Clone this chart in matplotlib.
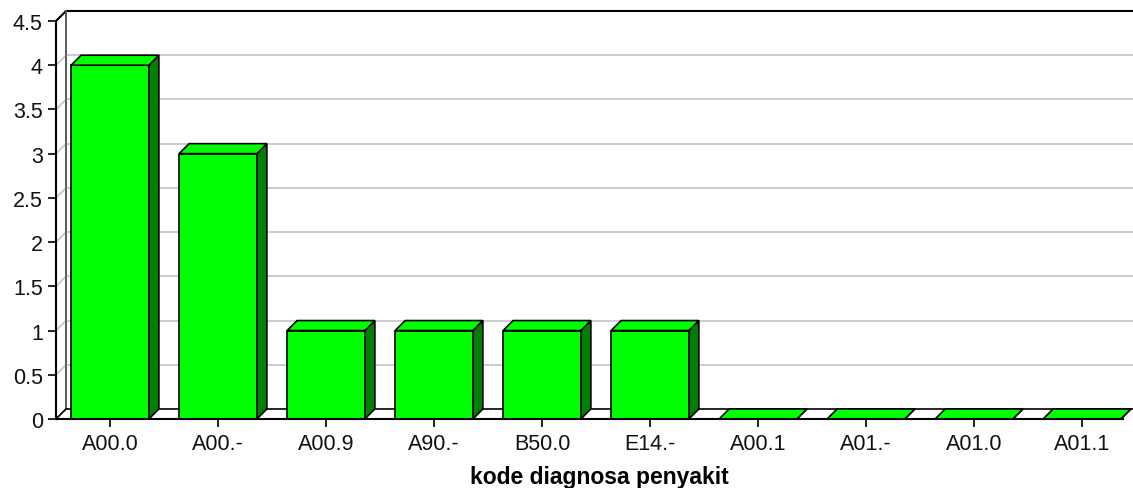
import matplotlib
matplotlib.use("Agg")
import matplotlib.pyplot as plt
from matplotlib.patches import Polygon, Rectangle

plt.rcParams['font.family'] = ['Liberation Sans', 'DejaVu Sans']

# jumlah kasus per kode diagnosa
codes = ['A00.0', 'A00.-', 'A00.9', 'A90.-', 'B50.0', 'E14.-', 'A00.1', 'A01.-', 'A01.0', 'A01.1']
counts = [4, 3, 1, 1, 1, 1, 0, 0, 0, 0]
yticks = [0, 0.5, 1, 1.5, 2, 2.5, 3, 3.5, 4, 4.5]
ytick_labels = ['0', '0.5', '1', '1.5', '2', '2.5', '3', '3.5', '4', '4.5']

W, H = 1133, 489
fig = plt.figure(figsize=(W / 100, H / 100), dpi=100)
fig.patch.set_facecolor('white')

# front plane of the 3D plot, in pixels
left_px, right_px, top_px, bottom_px = 56, 1123, 22, 420
ax = fig.add_axes([left_px / W, (H - bottom_px) / H,
                   (right_px - left_px) / W, (bottom_px - top_px) / H])
xmin, xmax = -0.5, 9.38
ymin, ymax = 0, 4.5
ax.set_xlim(xmin, xmax)
ax.set_ylim(ymin, ymax)
ax.patch.set_visible(False)

# depth offset (pixels) converted into data units
depth_px = 10
px_x = (right_px - left_px) / (xmax - xmin)
px_y = (bottom_px - top_px) / (ymax - ymin)
dx = depth_px / px_x
dy = depth_px / px_y
far = xmax + 2  # walls run off the right edge

wall_edge = '#555555'
grid_col = '#c8c8c8'

# back wall, left wall, floor
ax.add_patch(Rectangle((xmin + dx, ymin + dy), far - xmin, ymax - ymin,
                       facecolor='white', edgecolor='none', zorder=0, clip_on=False))
ax.add_patch(Polygon([(xmin, ymin), (xmin + dx, ymin + dy), (xmin + dx, ymax + dy), (xmin, ymax)],
                     closed=True, facecolor='white', edgecolor=wall_edge, lw=1.0,
                     zorder=0.5, clip_on=False))
ax.add_patch(Polygon([(xmin, ymin), (far, ymin), (far + dx, ymin + dy), (xmin + dx, ymin + dy)],
                     closed=True, facecolor='white', edgecolor='none', zorder=0.5, clip_on=False))

# gridlines on the walls
for t in yticks[1:-1]:
    ax.plot([xmin + dx, far + dx], [t + dy, t + dy], color=grid_col, lw=1.3,
            zorder=1, clip_on=False, solid_capstyle='butt')
    ax.plot([xmin, xmin + dx], [t, t + dy], color=grid_col, lw=1.3, zorder=1, clip_on=False)

# wall outline: top edge and back edge of the floor
ax.plot([xmin, xmin + dx, far + dx], [ymax, ymax + dy, ymax + dy], color='black', lw=1.5,
        zorder=1.5, clip_on=False)
ax.plot([xmin + dx, xmin + dx], [ymin + dy, ymax + dy], color=wall_edge, lw=1.2,
        zorder=1.5, clip_on=False)
ax.plot([xmin + dx, far + dx], [ymin + dy, ymin + dy], color='black', lw=1.2,
        zorder=1.5, clip_on=False)
ax.plot([xmin, xmin + dx], [ymin, ymin + dy], color='black', lw=1.2, zorder=1.5, clip_on=False)

# bars: front face, then side and top faces
x = list(range(len(codes)))
bw = 0.72
bars = ax.bar(x, counts, width=bw, color='#00ff00', edgecolor='black', lw=1.2, zorder=3)
for xi, v in zip(x, counts):
    x0, x1 = xi - bw / 2, xi + bw / 2
    ax.add_patch(Polygon([(x1, 0), (x1 + dx, dy), (x1 + dx, v + dy), (x1, v)], closed=True,
                         facecolor='#008000', edgecolor='black', lw=1.2, zorder=3,
                         clip_on=False))
    ax.add_patch(Polygon([(x0, v), (x0 + dx, v + dy), (x1 + dx, v + dy), (x1, v)], closed=True,
                         facecolor='#00ff00', edgecolor='black', lw=1.2, zorder=3,
                         clip_on=False))

# axes
for s in ['top', 'right']:
    ax.spines[s].set_visible(False)
for s in ['left', 'bottom']:
    ax.spines[s].set_color('black')
    ax.spines[s].set_linewidth(1.5)
    ax.spines[s].set_zorder(4)

ax.set_yticks(yticks)
ax.set_yticklabels(ytick_labels)
ax.set_xticks(x)
ax.set_xticklabels(codes)
ax.tick_params(axis='both', length=6, width=1.2, color='black', labelsize=15.5,
               labelcolor='#111111', direction='out')
ax.tick_params(axis='y', pad=3.5)
ax.tick_params(axis='x', pad=4)

fig.text(599 / W, (H - 478) / H, 'kode diagnosa penyakit', ha='center', va='center',
         fontsize=16.5, fontweight='bold', color='black')

fig.savefig('out.png', dpi=100, facecolor='white')
